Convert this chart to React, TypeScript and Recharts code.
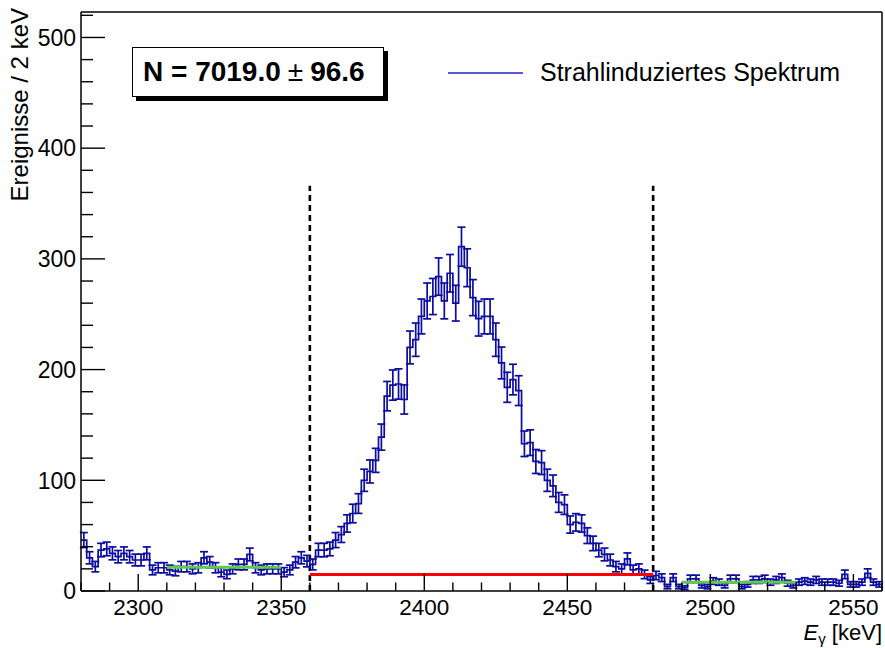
import React from 'react';
import { ComposedChart, Line, Scatter, ErrorBar, XAxis, YAxis, ReferenceLine } from 'recharts';

// histogram: 2 keV bins starting at 2280 keV
const binStart = 2280;
const binWidth = 2;
const counts = [
  46, 30, 22, 37, 38, 34, 31, 34, 31, 28, // 2280
  28, 34, 19, 21, 21, 19, 18, 22, 22, 20, // 2300
  21, 30, 26, 21, 17, 15, 20, 24, 24, 33, // 2320
  21, 19, 20, 20, 20, 17, 19, 26, 30, 27, // 2340
  24, 37, 37, 38, 46, 51, 61, 70, 79, 100, // 2360
  108, 118, 139, 176, 186, 187, 173, 220, 227, 248, // 2380
  262, 266, 284, 262, 287, 260, 311, 292, 265, 246, // 2400
  248, 248, 227, 206, 184, 191, 181, 133, 134, 117, // 2420
  116, 100, 95, 80, 78, 60, 62, 61, 50, 43, // 2440
  37, 33, 28, 22, 20, 29, 19, 20, 15, 10, // 2460
  14, 12, 4, 12, 4, 3, 11, 11, 5, 4, // 2480
  9, 8, 5, 11, 11, 4, 6, 10, 10, 11, // 2500
  8, 10, 12, 7, 5, 8, 9, 8, 10, 8, // 2520
  8, 8, 7, 15, 6, 6, 8, 16, 8, 6, // 2540
];

const xDomain = [2280, 2560];
const yDomain = [0, 523];
const xMajorTicks = [2300, 2350, 2400, 2450, 2500, 2550];
const xMinorStep = 10;
const yMajorTicks = [0, 100, 200, 300, 400, 500];
const yMinorStep = 20;

// sideband fits and the background under the peak
const leftSideband = [{ x: 2310, y: 21.5 }, { x: 2350, y: 21.5 }];
const rightSideband = [{ x: 2490, y: 8 }, { x: 2530, y: 8 }];
const peakBackground = [{ x: 2360, y: 15 }, { x: 2480, y: 15 }];
const windowEdges = [2360, 2480];
const windowTop = 366;

const legendLabel = 'Strahlinduziertes Spektrum';
const yTitle = 'Ereignisse / 2 keV';
const nValue = '7019.0';
const nError = '96.6';

const W = 885;
const H = 648;
const PLOT_LEFT = 81;
const PLOT_TOP = 12;
const PLOT_RIGHT = 882;
const PLOT_BOTTOM = 591;
const FONT = '"Liberation Sans", Arial, Helvetica, sans-serif';
const HIST = '#0c0ca0';

const histLine = counts.map((c, i) => ({ x: binStart + i * binWidth, y: c }));
histLine.push({ x: binStart + counts.length * binWidth, y: counts[counts.length - 1] });
const histPoints = counts.map((c, i) => ({ x: binStart + (i + 0.5) * binWidth, y: c, err: Math.sqrt(c) }));

const xTicks: number[] = [];
for (let v = xDomain[0]; v <= xDomain[1]; v += xMinorStep) xTicks.push(v);
const yTicks: number[] = [];
for (let v = yDomain[0]; v <= yDomain[1]; v += yMinorStep) yTicks.push(v);

const XTick = (props: any) => {
  const { x, payload } = props;
  const major = xMajorTicks.includes(payload.value);
  return (
    <g>
      <line x1={x} x2={x} y1={PLOT_BOTTOM} y2={PLOT_BOTTOM - (major ? 17 : 8.5)} stroke="#000" strokeWidth={1.4} />
      {major && (
        <text x={x} y={PLOT_BOTTOM + 24} textAnchor="middle" fontSize={22.5} fontFamily={FONT} fill="#000">
          {payload.value}
        </text>
      )}
    </g>
  );
};

const YTick = (props: any) => {
  const { y, payload } = props;
  const major = yMajorTicks.includes(payload.value);
  return (
    <g>
      <line x1={PLOT_LEFT} x2={PLOT_LEFT + (major ? 24 : 12)} y1={y} y2={y} stroke="#000" strokeWidth={1.4} />
      {major && (
        <text x={PLOT_LEFT - 5} y={y} dy="0.36em" textAnchor="end" fontSize={23} fontFamily={FONT} fill="#000">
          {payload.value}
        </text>
      )}
    </g>
  );
};

export default function App() {
  return (
    <div style={{ position: 'absolute', left: 0, top: 0, width: W, height: H, background: '#fff', fontFamily: FONT }}>
      <ComposedChart
        width={W}
        height={H}
        margin={{ top: PLOT_TOP, right: W - PLOT_RIGHT, left: 0, bottom: 0 }}
      >
        <XAxis
          type="number"
          dataKey="x"
          domain={xDomain}
          ticks={xTicks}
          interval={0}
          allowDataOverflow
          height={H - PLOT_BOTTOM}
          tickLine={false}
          axisLine={{ stroke: '#000', strokeWidth: 1.5 }}
          tick={<XTick />}
          label={() => (
            <text x={PLOT_RIGHT} y={640} textAnchor="end" fontSize={22} fontFamily={FONT} fill="#000">
              <tspan fontStyle="italic">E</tspan>
              <tspan fontSize={15} dy={4}>γ</tspan>
              <tspan dy={-4}> [keV]</tspan>
            </text>
          )}
        />
        <YAxis
          type="number"
          domain={yDomain}
          ticks={yTicks}
          interval={0}
          allowDataOverflow
          width={PLOT_LEFT}
          tickLine={false}
          axisLine={{ stroke: '#000', strokeWidth: 1.5 }}
          tick={<YTick />}
          label={() => (
            <text
              x={28}
              y={8}
              transform="rotate(-90, 28, 8)"
              textAnchor="end"
              fontSize={24}
              fontFamily={FONT}
              fill="#000"
            >
              {yTitle}
            </text>
          )}
        />
        <ReferenceLine y={yDomain[1]} stroke="#000" strokeWidth={1.5} />
        <ReferenceLine x={xDomain[1]} stroke="#000" strokeWidth={1.5} />
        {windowEdges.map((e) => (
          <ReferenceLine
            key={e}
            segment={[{ x: e, y: 0 }, { x: e, y: windowTop }]}
            stroke="#000"
            strokeWidth={2.6}
            strokeDasharray="6 4"
          />
        ))}
        <Line
          data={histLine}
          dataKey="y"
          type="stepAfter"
          stroke={HIST}
          strokeWidth={1.7}
          dot={false}
          isAnimationActive={false}
        />
        <Scatter data={histPoints} dataKey="y" shape={() => <g />} isAnimationActive={false}>
          <ErrorBar dataKey="err" direction="y" width={4} stroke={HIST} strokeWidth={1.7} isAnimationActive={false} />
        </Scatter>
        <Line data={leftSideband} dataKey="y" stroke="#62c94f" strokeWidth={3} dot={false} isAnimationActive={false} />
        <Line data={rightSideband} dataKey="y" stroke="#62c94f" strokeWidth={3} dot={false} isAnimationActive={false} />
        <Line data={peakBackground} dataKey="y" stroke="#ff0000" strokeWidth={3} dot={false} isAnimationActive={false} />
      </ComposedChart>

      <div
        style={{
          position: 'absolute',
          left: 132,
          top: 47,
          width: 252,
          height: 50,
          border: '1px solid #000',
          background: '#fff',
          boxShadow: '4px 4px 0 #000',
          display: 'flex',
          alignItems: 'center',
          paddingLeft: 10,
          boxSizing: 'border-box',
          fontSize: 28,
          fontWeight: 'bold',
          whiteSpace: 'nowrap',
        }}
      >
        N = {nValue} <span style={{ fontWeight: 'normal', margin: '0 7px' }}>±</span> {nError}
      </div>

      <div style={{ position: 'absolute', left: 448, top: 58, display: 'flex', alignItems: 'center', height: 29 }}>
        <svg width={75} height={4}>
          <line x1={0} x2={75} y1={2} y2={2} stroke="#2222c0" strokeWidth={1.5} />
        </svg>
        <span style={{ marginLeft: 17, fontSize: 25, whiteSpace: 'nowrap' }}>{legendLabel}</span>
      </div>
    </div>
  );
}
